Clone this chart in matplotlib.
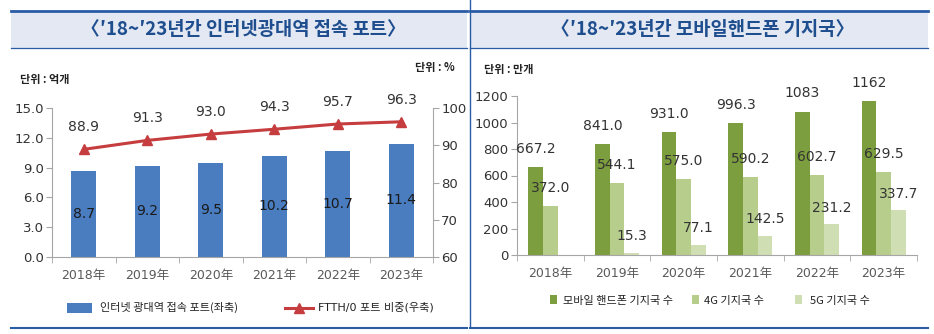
import matplotlib
matplotlib.use("Agg")
import matplotlib.pyplot as plt
import numpy as np
from matplotlib.patches import Rectangle
from matplotlib.lines import Line2D

plt.rcParams['font.family'] = ['DejaVu Sans', 'Noto Sans CJK KR']

# ---- data ----
years = ['2018年', '2019年', '2020年', '2021年', '2022年', '2023年']
ports = [8.7, 9.2, 9.5, 10.2, 10.7, 11.4]            # 억개 (left axis)
ftth_share = [88.9, 91.3, 93.0, 94.3, 95.7, 96.3]     # % (right axis)
mobile_total = [667.2, 841.0, 931.0, 996.3, 1083, 1162]
mobile_4g = [372.0, 544.1, 575.0, 590.2, 602.7, 629.5]
mobile_5g = [None, 15.3, 77.1, 142.5, 231.2, 337.7]
total_labels = ['667.2', '841.0', '931.0', '996.3', '1083', '1162']
left_title = '〈′18~′23년간 인터넷광대역 접속 포트〉'
right_title = '〈′18~′23년간 모바일핸드폰 기지국〉'

W, H = 934, 334
fig = plt.figure(figsize=(W / 100, H / 100), dpi=100)

def fx(px):
    return px / W

def fy(py):
    return 1 - py / H

KR = 'Noto Sans CJK KR'
BLUE_LINE = '#2A5CA5'
TITLE_BG = '#E3E8F3'
TITLE_COL = '#1F4E8F'
GRID_COL = '#A6A6A6'
TXT = '#333333'
LBL = 10
TICK = 9.5

# ---- title bars & frame lines ----
for x0, x1, title in [(11, 467, left_title), (470, 928, right_title)]:
    fig.patches.append(Rectangle((fx(x0), fy(48)), fx(x1) - fx(x0), fy(10) - fy(48),
                                 transform=fig.transFigure, facecolor=TITLE_BG,
                                 edgecolor='none', zorder=0))
    fig.lines.append(Line2D([fx(x0), fx(x1)], [fy(10.5), fy(10.5)], transform=fig.transFigure,
                            color=BLUE_LINE, lw=2.0))
    fig.lines.append(Line2D([fx(x0), fx(x1)], [fy(48), fy(48)], transform=fig.transFigure,
                            color=BLUE_LINE, lw=0.9))
    fig.lines.append(Line2D([fx(x0), fx(x1)], [fy(327.5), fy(327.5)], transform=fig.transFigure,
                            color=BLUE_LINE, lw=1.5))
    fig.text(fx((x0 + x1) / 2 + 4), fy(29.5), title, ha='center', va='center',
             fontsize=13.5, fontweight='bold', color=TITLE_COL, family=[KR, 'DejaVu Sans'])
fig.lines.append(Line2D([fx(470), fx(470)], [fy(0), fy(327)], transform=fig.transFigure,
                        color=BLUE_LINE, lw=1.0))

# ---- left chart ----
x = np.arange(len(years))
ax1 = fig.add_axes([fx(52), fy(257), fx(433) - fx(52), fy(108) - fy(257)])
ax1.bar(x, ports, width=0.4, color='#4A7CC0', zorder=2)
ax1.set_xlim(-0.5, 5.5)
ax1.set_ylim(0, 15)
ax1.set_yticks(np.arange(0, 15.1, 3))
ax1.set_yticklabels([f'{v:.1f}' for v in np.arange(0, 15.1, 3)])
for xi, v in zip(x, ports):
    ax1.text(xi, v / 2, f'{v}', ha='center', va='center', fontsize=LBL, color='#1A1A1A', zorder=3)

ax2 = ax1.twinx()
ax2.plot(x, ftth_share, color='#C63D3F', lw=2.2, marker='^', markersize=7, zorder=3)
ax2.set_ylim(60, 100)
ax2.set_yticks(np.arange(60, 101, 10))
for xi, v in zip(x, ftth_share):
    ax2.annotate(f'{v:.1f}', (xi, v), xytext=(0, 16), textcoords='offset points',
                 ha='center', va='center', fontsize=LBL, color=TXT)

for a in (ax1, ax2):
    a.set_facecolor('none')
    for s in a.spines.values():
        s.set_color(GRID_COL)
    a.spines['top'].set_visible(False)
ax1.spines['right'].set_visible(False)
ax2.spines['left'].set_visible(False)
ax2.spines['bottom'].set_visible(False)
ax1.tick_params(axis='y', colors=GRID_COL, labelcolor=TXT, labelsize=TICK, length=4, pad=2)
ax2.tick_params(axis='y', colors=GRID_COL, labelcolor=TXT, labelsize=TICK, length=4, pad=2)
ax1.set_xticks(x)
ax1.set_xticklabels(years, fontsize=9, color='#595959')
ax1.tick_params(axis='x', which='major', length=0, pad=9)
ax1.set_xticks(np.arange(-0.5, 5.6, 1), minor=True)
ax1.tick_params(axis='x', which='minor', length=4, colors=GRID_COL)

fig.text(fx(20), fy(79), '단위 : 억개', fontsize=8, fontweight='bold', color='#222222',
         family=[KR], va='center', ha='left')
fig.text(fx(455), fy(68), '단위 : %', fontsize=8, fontweight='bold', color='#222222',
         family=[KR], va='center', ha='right')

# left legend
fig.patches.append(Rectangle((fx(67), fy(313)), fx(92) - fx(67), fy(303) - fy(313),
                             transform=fig.transFigure, facecolor='#4A7CC0', edgecolor='none'))
fig.text(fx(100), fy(307), '인터넷 광대역 접속 포트(좌축)', fontsize=8, color='#222222',
         family=[KR], va='center', ha='left')
fig.lines.append(Line2D([fx(285), fx(313)], [fy(308), fy(308)], transform=fig.transFigure,
                        color='#C63D3F', lw=2.2))
fig.lines.append(Line2D([fx(299)], [fy(308)], transform=fig.transFigure,
                        color='#C63D3F', marker='^', markersize=7, lw=0))
fig.text(fx(318), fy(307), 'FTTH/0 포트 비중(우축)', fontsize=8, color='#222222',
         family=['DejaVu Sans', KR], va='center', ha='left')

# ---- right chart ----
C_TOT, C_4G, C_5G = '#7D9E3F', '#B6CD8B', '#D0DEB3'
bw = 0.22
ax3 = fig.add_axes([fx(517), fy(255), fx(917) - fx(517), fy(96) - fy(255)])
ax3.bar(x - bw, mobile_total, width=bw, color=C_TOT, zorder=2)
ax3.bar(x, mobile_4g, width=bw, color=C_4G, zorder=2)
g5 = [v if v is not None else 0 for v in mobile_5g]
ax3.bar(x + bw, g5, width=bw, color=C_5G, zorder=2)
ax3.set_xlim(-0.5, 5.5)
ax3.set_ylim(0, 1200)
ax3.set_yticks(np.arange(0, 1201, 200))
for xi, v, lab in zip(x, mobile_total, total_labels):
    ax3.annotate(lab, (xi - bw, v), xytext=(0, 13), textcoords='offset points',
                 ha='center', va='center', fontsize=LBL, color=TXT)
for xi, v in zip(x, mobile_4g):
    ax3.annotate(f'{v:.1f}', (xi, v), xytext=(0, 13), textcoords='offset points',
                 ha='center', va='center', fontsize=LBL, color=TXT)
for xi, v in zip(x, mobile_5g):
    if v is None:
        continue
    ax3.annotate(f'{v:.1f}', (xi + bw, v), xytext=(0, 12), textcoords='offset points',
                 ha='center', va='center', fontsize=LBL, color=TXT)
for s in ax3.spines.values():
    s.set_color(GRID_COL)
ax3.spines['top'].set_visible(False)
ax3.spines['right'].set_visible(False)
ax3.tick_params(axis='y', colors=GRID_COL, labelcolor=TXT, labelsize=TICK, length=4, pad=2)
ax3.set_xticks(x)
ax3.set_xticklabels(years, fontsize=9, color='#595959')
ax3.tick_params(axis='x', which='major', length=0, pad=9)
ax3.set_xticks(np.arange(-0.5, 5.6, 1), minor=True)
ax3.tick_params(axis='x', which='minor', length=4, colors=GRID_COL)

fig.text(fx(484), fy(70), '단위 : 만개', fontsize=8, fontweight='bold', color='#222222',
         family=[KR], va='center', ha='left')

# right legend
for sx, tx, col, lab in [(550, 563, C_TOT, '모바일 핸드폰 기지국 수'),
                         (692, 704, C_4G, '4G 기지국 수'),
                         (795, 810, C_5G, '5G 기지국 수')]:
    fig.patches.append(Rectangle((fx(sx), fy(304)), fx(sx + 7) - fx(sx), fy(295) - fy(304),
                                 transform=fig.transFigure, facecolor=col, edgecolor='none'))
    fig.text(fx(tx), fy(301), lab, fontsize=8, color='#222222',
             family=[KR], va='center', ha='left')

fig.savefig('out.png', dpi=100)
